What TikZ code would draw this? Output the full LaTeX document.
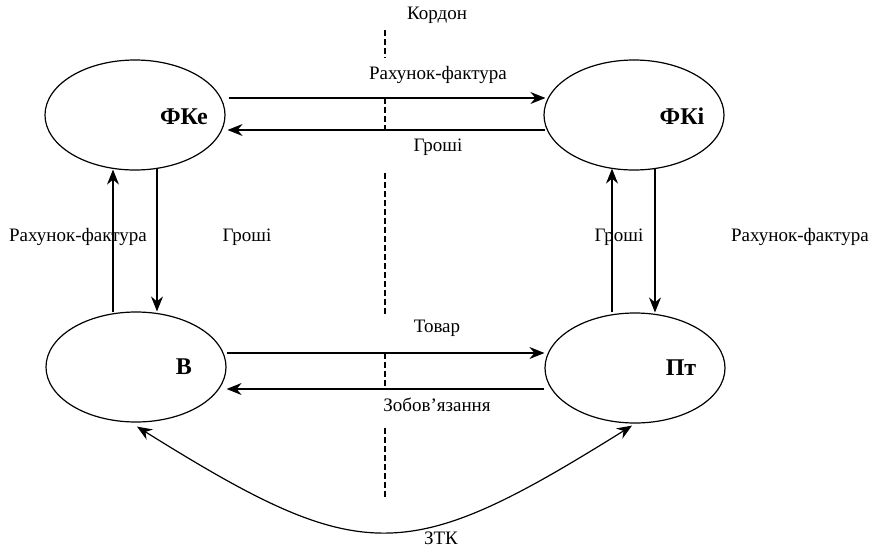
\documentclass[tikz,border=0pt]{standalone}
\usepackage{fontspec}
\setmainfont{Liberation Serif}
\usetikzlibrary{arrows.meta,calc,shapes.geometric}
\begin{document}
\begin{tikzpicture}[x=1pt,y=-1pt,
  ent/.style={ellipse, draw, line width=1.2pt, minimum width=180pt, minimum height=110pt, inner sep=0pt},
  ename/.style={font=\fontsize{24}{28}\selectfont\bfseries, inner sep=0pt},
  lbl/.style={font=\fontsize{19}{22}\selectfont, inner sep=0pt},
  tip/.tip={Stealth[length=15pt,width=12pt,inset=5pt]},
  flow/.style={line width=1.2pt, -tip},
  both/.style={line width=1.2pt, tip-tip},
  border/.style={line width=1.2pt, dash pattern=on 6pt off 3pt}
]
\fill[white] (0,0) rectangle (875,550);
\useasboundingbox (0,0) rectangle (875,550);

% entities
\node[ent] (FKe) at (135,115) {};
\node[ent] (FKi) at (634,115) {};
\node[ent] (B) at (136,367) {};
\node[ent] (Pt) at (635,368) {};
\node[ename] (FKeT) at (184,117) {ФКе};
\node[ename] (FKiT) at (682,116) {ФКі};
\node[ename] (BT) at (184,367) {В};
\node[ename] (PtT) at (681,368) {Пт};

% border (cordon)
\draw[border] (385,30) -- (385,58);
\draw[border] (385,98) -- (385,130);
\draw[border] (385,173) -- (385,315);
\draw[border] (385,353) -- (385,390);
\draw[border] (385,428) -- (385,498);

% horizontal flows
\draw[flow] ($(FKe.east)+(3,-17)$) -- ($(FKi.west)+(2,-17)$);
\draw[flow] ($(FKi.west)+(2,15)$) -- ($(FKe.east)+(2,15)$);
\draw[flow] ($(B.east)+(0,-14)$) -- ($(Pt.west)+(0,-15)$);
\draw[flow] ($(Pt.west)+(0,21)$) -- ($(B.east)+(0,22)$);

% vertical flows
\draw[flow] ($(B.north)+(-23,1)$) -- ($(FKe.south)+(-22,-1)$);
\draw[flow] ($(FKe.south)+(22,-3)$) -- ($(B.north)+(21,0)$);
\draw[flow] ($(Pt.north)+(-23,0)$) -- ($(FKi.south)+(-22,-2)$);
\draw[flow] ($(FKi.south)+(21,-2)$) -- ($(Pt.north)+(20,0)$);

% ZTK
\draw[both] ($(B.south)+(1,4)$) .. controls +(226,141) and +(-226,141) .. ($(Pt.south)+(-3,2)$);

% labels
\node[lbl] (kordon) at (437,15) {Кордон};
\node[lbl] (l1) at (438,75) {Рахунок-фактура};
\node[lbl] (l2) at (438,147) {Гроші};
\node[lbl] (l3) at (78,237) {Рахунок-фактура};
\node[lbl] (l4) at (247,237) {Гроші};
\node[lbl] (l5) at (619,237) {Гроші};
\node[lbl] (l6) at (800,237) {Рахунок-фактура};
\node[lbl] (l7) at (437,328) {Товар};
\node[lbl] (l8) at (437,405) {Зобов’язання};
\node[lbl] (l9) at (441,538) {ЗТК};
\end{tikzpicture}
\end{document}
